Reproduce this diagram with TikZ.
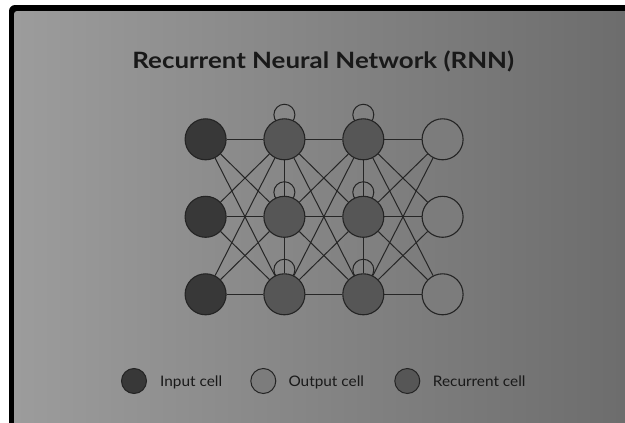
\documentclass[tikz,border=0pt]{standalone}
\usepackage{fontspec}
\usepackage{graphicx}
\setmainfont{Lato}
\usetikzlibrary{backgrounds}
\definecolor{incol}{RGB}{56,56,56}
\definecolor{reccol}{RGB}{86,86,86}
\definecolor{outcol}{RGB}{124,124,124}
\definecolor{linkcol}{RGB}{38,38,38}
\definecolor{rimcol}{RGB}{36,36,36}
\definecolor{txtcol}{RGB}{25,25,25}
\definecolor{bgl}{RGB}{156,156,156}
\definecolor{bgr}{RGB}{108,108,108}
\begin{document}
\begin{tikzpicture}[x=1pt,y=-1pt,
  cell/.style={circle,draw=rimcol,line width=1.1pt,minimum size=41pt,inner sep=0pt},
  incell/.style={cell,fill=incol},
  outcell/.style={cell,fill=outcol},
  reccell/.style={cell,fill=reccol},
  link/.style={draw=linkcol,line width=1pt},
  loopline/.style={draw=rimcol,line width=1pt},
  legcell/.style={circle,draw=rimcol,line width=1pt,minimum size=25pt,inner sep=0pt},
  legtext/.style={anchor=base west,text=txtcol,inner sep=0pt,font=\fontsize{14.5}{17}\selectfont}]
\useasboundingbox (0,0) rectangle (625,423);
% frame with grey gradient panel
\begin{scope}[on background layer]
  \fill[white] (0,0) rectangle (625,423);
  \clip (0,0) rectangle (625,423);
  \fill[black,rounded corners=6pt] (9,5) rectangle (640,440);
  \shade[left color=bgl,right color=bgr,rounded corners=3pt] (14,11) rectangle (635,435);
\end{scope}

% title
\node[anchor=base,text=txtcol,inner sep=0pt,font=\bfseries\fontsize{22.5}{26}\selectfont] (title) at (323.3,68.3) {\scalebox{1.15}[1]{Recurrent Neural Network (RNN)}};

% cells: input (i), two recurrent layers (h, k), output (o)
\foreach \r/\y in {1/139.3,2/216.8,3/294.3}{
  \node[incell]  (i\r) at (205.6,\y) {};
  \node[reccell] (h\r) at (284.4,\y) {};
  \node[reccell] (k\r) at (363.3,\y) {};
  \node[outcell] (o\r) at (442.6,\y) {};
}

% connections and self loops, kept behind the cells
\begin{scope}[on background layer]
  \foreach \a/\b in {i/h,h/k,k/o}{
    \foreach \m in {1,2,3}{
      \foreach \n in {1,2,3}{
        \draw[link] (\a\m) -- (\b\n);
      }
    }
  }
  \foreach \a in {h,k}{
    \draw[link] (\a1) -- (\a2);
    \draw[link] (\a2) -- (\a3);
    \foreach \r in {1,2,3}{
      \draw[loopline] ([yshift=3.5pt]\a\r.north) circle[radius=10.5pt];
    }
  }
\end{scope}

% legend
\node[legcell,fill=incol]  (li) at (134,381) {};
\node[legtext] (lit) at (160,386.7) {\scalebox{1.06}[1]{Input cell}};
\node[legcell,fill=outcol] (lo) at (263.3,381) {};
\node[legtext] (lot) at (288.3,386.7) {\scalebox{1.06}[1]{Output cell}};
\node[legcell,fill=reccol] (lr) at (407.3,381) {};
\node[legtext] (lrt) at (432.7,386.7) {\scalebox{1.06}[1]{Recurrent cell}};
\end{tikzpicture}
\end{document}
